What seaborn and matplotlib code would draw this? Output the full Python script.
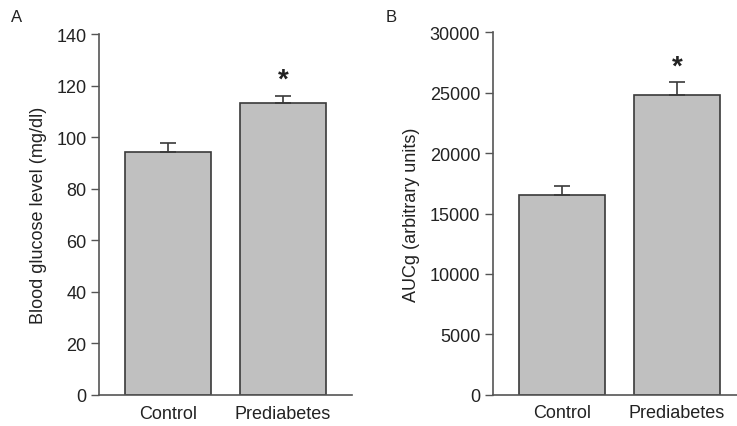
import matplotlib
matplotlib.use("Agg")
import matplotlib.pyplot as plt
import seaborn as sns
import pandas as pd

groups = ["Control", "Prediabetes"]
glucose = [94.2, 113.1]
glucose_err = [3.5, 2.9]
aucg = [16500, 24800]
aucg_err = [770, 1050]

sns.set_theme(style="white")
plt.rcParams['font.family'] = ['Liberation Sans', 'DejaVu Sans']

fig = plt.figure(figsize=(7.37, 4.27), dpi=100)
axA = fig.add_axes([99/737, 1-396/427, (352-99)/737, (396-35)/427])
axB = fig.add_axes([492.7/737, 1-395.7/427, (737-492.7)/737, (395.7-33.3)/427])

fill = "#c0c0c0"
edge = "#3a3a3a"
spine_c = "#555555"

def panel(ax, vals, errs, ylim, yticks, ylabel, xr, star_pad):
    df = pd.DataFrame({"group": groups, "value": vals})
    sns.barplot(data=df, x="group", y="value", ax=ax, color=fill,
                edgecolor=edge, linewidth=1.2, width=0.75, errorbar=None,
                saturation=1)
    ax.errorbar(range(len(groups)), vals, yerr=[[0]*len(errs), errs],
                fmt="none", ecolor=edge, elinewidth=1.2, capsize=6,
                capthick=1.2, zorder=1)
    ax.set_xlim(-0.6, xr)
    ax.set_ylim(*ylim)
    ax.set_yticks(yticks)
    ax.set_xlabel("")
    ax.set_ylabel(ylabel, fontsize=13, color="#222222", labelpad=7)
    for s in ["top", "right"]:
        ax.spines[s].set_visible(False)
    for s in ["left", "bottom"]:
        ax.spines[s].set_color(spine_c)
        ax.spines[s].set_linewidth(1.2)
    ax.tick_params(axis="y", direction="out", length=6, width=1.0,
                   color=spine_c, labelsize=13, labelcolor="#222222", pad=3, left=True)
    ax.tick_params(axis="x", length=0, labelsize=13, labelcolor="#222222", pad=7)
    ax.text(1, vals[1] + errs[1] + star_pad, "*", ha="center", va="bottom",
            fontsize=20, fontweight="bold", color="#222222")
    ax.patch.set_alpha(0)
    return ax

panel(axA, glucose, glucose_err, (0, 140), range(0, 141, 20),
      "Blood glucose level (mg/dl)", 1.6, 1.2)
panel(axB, aucg, aucg_err, (0, 30000), range(0, 30001, 5000),
      "AUCg (arbitrary units)", 1.52, 200)

fig.text(11/737, 1-18/427, "A", fontsize=12, color="#222222", va="center")
fig.text(386/737, 1-18/427, "B", fontsize=12, color="#222222", va="center")

fig.savefig("out.png", dpi=100)
